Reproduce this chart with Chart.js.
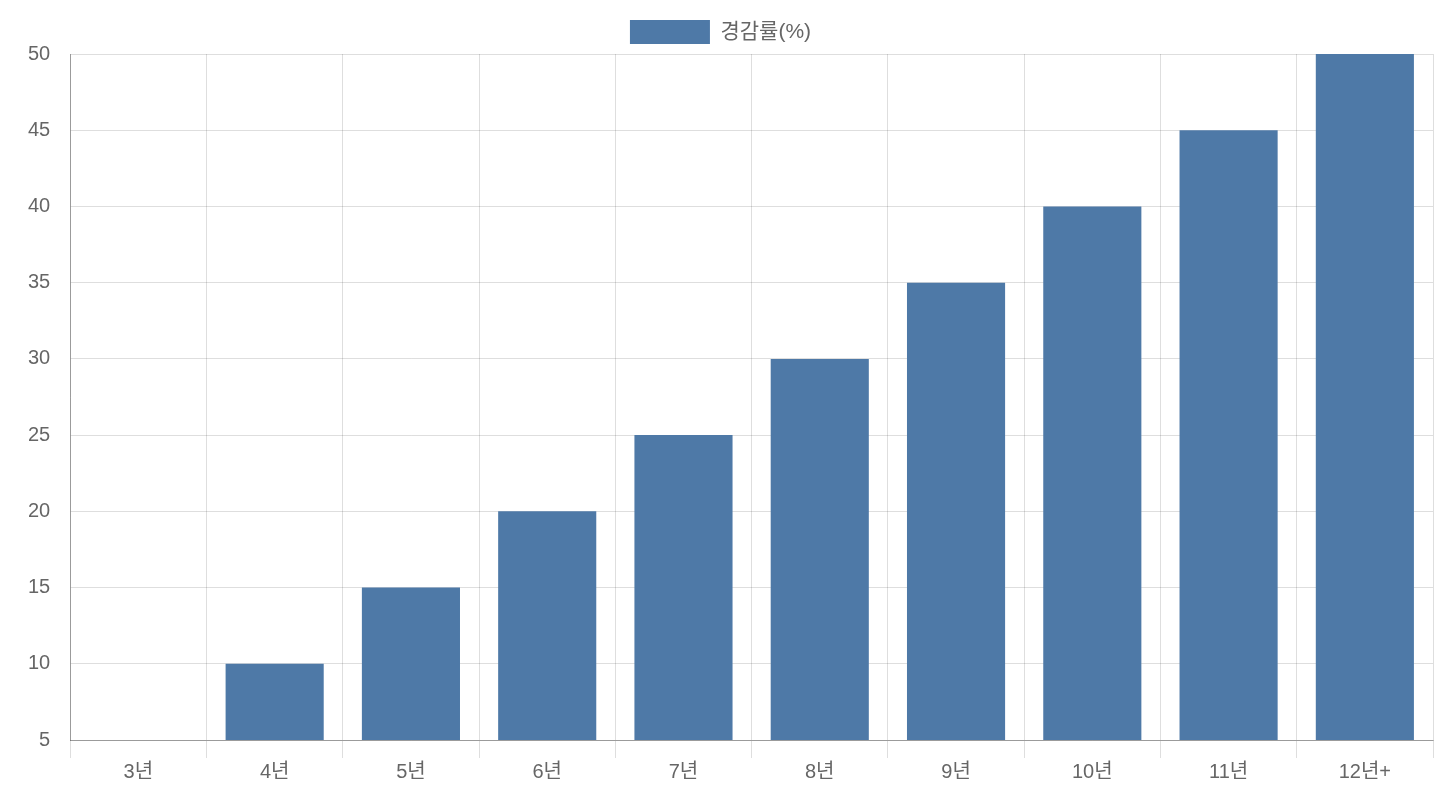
<!DOCTYPE html>
<html>
<head>
<meta charset="utf-8">
<script src="https://cdn.jsdelivr.net/npm/chart.js@4"></script>
<style>
  html, body { margin: 0; padding: 0; background: #fff; }
  #wrap { width: 1440px; height: 800px; }
</style>
</head>
<body>
<div id="wrap"><canvas id="chart"></canvas></div>
<script>
const labels = ['3년', '4년', '5년', '6년', '7년', '8년', '9년', '10년', '11년', '12년+'];
const reductionRates = [5, 10, 15, 20, 25, 30, 35, 40, 45, 50];
const seriesName = '경감률(%)';

Chart.defaults.font.family = '"Liberation Sans", Arial, "Noto Sans CJK KR", sans-serif';
Chart.defaults.font.size = 20;
Chart.defaults.color = '#666';

new Chart(document.getElementById('chart'), {
    type: 'bar',
    data: {
        labels: labels,
        datasets: [{
            label: seriesName,
            data: reductionRates,
            backgroundColor: '#4e79a7'
        }]
    },
    options: {
        responsive: true,
        maintainAspectRatio: false,
        animation: false,
        layout: { padding: { left: 8, right: 7, top: 10, bottom: 14 } },
        plugins: {
            legend: {
                labels: { boxWidth: 80, boxHeight: 24, font: { size: 21 }, padding: 10 }
            }
        },
        scales: {
            y: {
                min: 5,
                max: 50,
                ticks: { stepSize: 5, padding: 20 },
                grid: { tickLength: 0, color: 'rgba(0,0,0,0.13)' },
                border: { color: 'rgba(0,0,0,0.3)' }
            },
            x: {
                ticks: { padding: 2 },
                grid: { tickLength: 18, color: 'rgba(0,0,0,0.13)' },
                border: { color: 'rgba(0,0,0,0.3)' }
            }
        }
    }
});
</script>
</body>
</html>
